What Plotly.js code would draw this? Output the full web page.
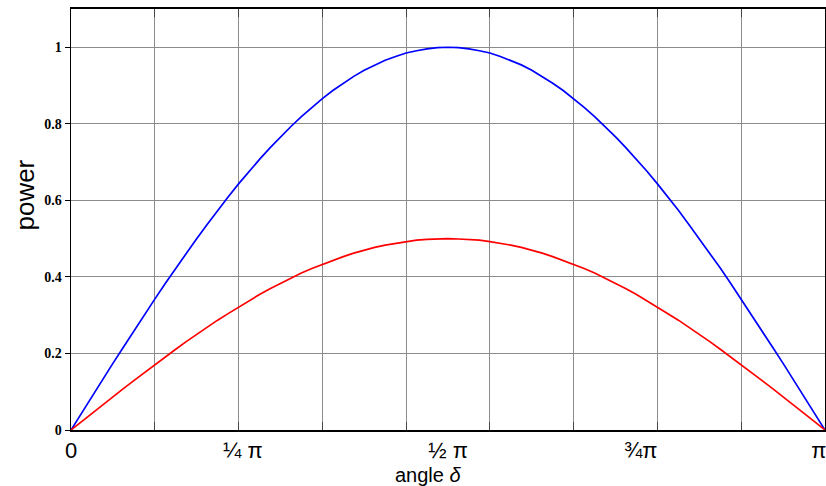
<!DOCTYPE html>
<html>
<head>
<meta charset="utf-8">
<script src="https://cdn.plot.ly/plotly-3.0.1.min.js"></script>
<style>html,body{margin:0;padding:0;background:#fff;}#chart{width:826px;height:486px;}</style>
</head>
<body>
<div id="chart"></div>
<script>
// angle δ in degrees (0 .. 180 = π)
const angleDeg = [0,2.5,5,7.5,10,12.5,15,17.5,20,22.5,25,27.5,30,32.5,35,37.5,40,42.5,45,47.5,50,52.5,55,57.5,60,62.5,65,67.5,70,72.5,75,77.5,80,82.5,85,87.5,90,
                  92.5,95,97.5,100,102.5,105,107.5,110,112.5,115,117.5,120,122.5,125,127.5,130,132.5,135,137.5,140,142.5,145,147.5,150,152.5,155,157.5,160,162.5,165,167.5,170,172.5,175,177.5,180];
// blue curve
const powerBlue = [0,0.044,0.087,0.131,0.174,0.216,0.259,0.301,0.342,0.383,0.423,0.462,0.500,0.537,0.574,0.609,0.643,0.676,0.707,0.737,0.766,0.793,0.819,0.843,0.866,0.887,0.906,0.924,0.940,0.954,0.966,0.976,0.985,0.991,0.996,0.999,1.0,
                   0.999,0.996,0.991,0.985,0.976,0.966,0.954,0.940,0.924,0.906,0.887,0.866,0.843,0.819,0.793,0.766,0.737,0.707,0.676,0.643,0.609,0.574,0.537,0.500,0.462,0.423,0.383,0.342,0.301,0.259,0.216,0.174,0.131,0.087,0.044,0];
// red curve
const powerRed = [0,0.022,0.044,0.065,0.087,0.108,0.129,0.150,0.171,0.191,0.211,0.231,0.250,0.269,0.287,0.304,0.321,0.338,0.354,0.369,0.383,0.397,0.410,0.422,0.433,0.443,0.453,0.462,0.470,0.477,0.483,0.488,0.492,0.496,0.498,0.499,0.5,
                  0.499,0.498,0.496,0.492,0.488,0.483,0.477,0.470,0.462,0.453,0.443,0.433,0.422,0.410,0.397,0.383,0.369,0.354,0.338,0.321,0.304,0.287,0.269,0.250,0.231,0.211,0.191,0.171,0.150,0.129,0.108,0.087,0.065,0.044,0.022,0];
// grid positions (every 20°) and y ticks
const gridDeg = [0,20,40,60,80,100,120,140,160,180];
const yTicks = [0,0.2,0.4,0.6,0.8,1];
const yTickText = ['0','0.2','0.4','0.6','0.8','1'];
// π labels along the x axis
const piLabelPos = [0,41,90,136,178.5];
const piLabels = ['0','¼ π','½ π','¾π','π'];

const traces = [
  {x: angleDeg, y: powerBlue, type:'scatter', mode:'lines', line:{color:'#0000ff', width:1.7}, xaxis:'x', yaxis:'y', hoverinfo:'skip'},
  {x: angleDeg, y: powerRed, type:'scatter', mode:'lines', line:{color:'#ff0000', width:1.7}, xaxis:'x', yaxis:'y', hoverinfo:'skip'},
  {x: piLabelPos, y: piLabelPos.map(()=>null), type:'scatter', mode:'lines', xaxis:'x2', yaxis:'y', hoverinfo:'skip', showlegend:false}
];

const layout = {
  width: 826, height: 486,
  margin: {l:71, r:1, t:9, b:56},
  paper_bgcolor:'#fff', plot_bgcolor:'#fff',
  showlegend:false,
  xaxis: {
    range:[0,180], tickvals: gridDeg, ticktext: gridDeg.map(()=>''),
    showgrid:true, gridcolor:'#8c8c8c', gridwidth:1,
    zeroline:false, showline:true, linecolor:'#000', linewidth:2, mirror:'ticks',
    ticks:'inside', ticklen:8, tickcolor:'#444', tickwidth:1
  },
  xaxis2: {
    range:[0,180], overlaying:'x', anchor:'y', side:'bottom',
    tickvals: piLabelPos, ticktext: piLabels,
    showgrid:false, zeroline:false, showline:false,
    ticks:'outside', ticklen:1, tickcolor:'rgba(0,0,0,0)', ticklabeloverflow:'allow',
    tickfont:{family:'Liberation Sans, Arial, sans-serif', size:22, color:'#000'}
  },
  yaxis: {
    range:[0,1.1], tickvals: yTicks, ticktext: yTickText,
    showgrid:true, gridcolor:'#8c8c8c', gridwidth:1,
    zeroline:false, showline:true, linecolor:'#000', linewidth:1.5, mirror:true,
    ticks:'outside', ticklen:5, tickcolor:'#000', tickwidth:1,
    tickfont:{family:'Liberation Serif, Times New Roman, serif', size:14, color:'#000', weight:'bold'}
  },
  annotations: [
    {text:'angle <i>δ</i>', xref:'paper', yref:'paper', x:0.4745, y:-0.106,
     xanchor:'center', yanchor:'middle', showarrow:false,
     font:{family:'Liberation Sans, Arial, sans-serif', size:20, color:'#000'}},
    {text:'power', xref:'paper', yref:'paper', x:-0.0604, y:0.558, textangle:-90,
     xanchor:'center', yanchor:'middle', showarrow:false,
     font:{family:'Liberation Sans, Arial, sans-serif', size:26, color:'#000'}}
  ]
};

Plotly.newPlot('chart', traces, layout, {staticPlot:true, displayModeBar:false});
</script>
</body>
</html>
